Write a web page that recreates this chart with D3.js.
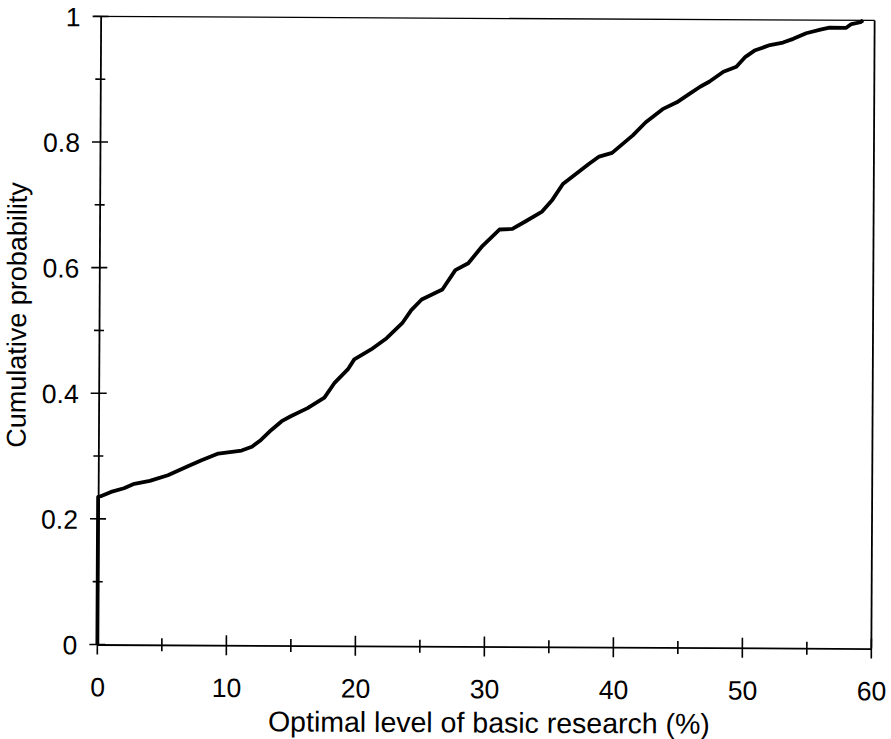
<!DOCTYPE html>
<html>
<head>
<meta charset="utf-8">
<script src="https://cdn.jsdelivr.net/npm/d3@7"></script>
<style>
    html, body { margin: 0; padding: 0; background: #fff; }
    svg { display: block; }
    text { font-family: "Liberation Sans", Arial, sans-serif; fill: #000; }
</style>
</head>
<body>
<svg id="chart" width="891" height="739"></svg>
<script>
// Optimal level of basic research (%)
var levels = [0, 0, 0.2, 1.0, 2.0, 2.8, 4.0, 5.4, 6.9, 8.0, 9.3, 11.1, 11.9, 12.6, 13.4, 14.2, 14.9,
    16.2, 17.5, 18.3, 19.3, 19.8, 21.1, 22.3, 23.5, 24.2, 25.0, 26.6, 27.6, 28.6, 29.7, 31.0,
    32.0, 33.0, 34.3, 35.1, 35.9, 36.9, 37.9, 38.7, 39.7, 41.3, 42.3, 43.6, 44.7, 45.7, 46.5,
    47.2, 48.3, 49.3, 50.0, 50.7, 51.9, 52.9, 53.7, 54.7, 55.8, 56.5, 57.8, 58.2, 58.9, 59.1];
// Cumulative probability at each level
var probs = [0, 0.235, 0.236, 0.243, 0.249, 0.256, 0.261, 0.27, 0.284, 0.294, 0.305, 0.31, 0.316,
    0.327, 0.343, 0.357, 0.365, 0.378, 0.395, 0.419, 0.44, 0.456, 0.472, 0.49, 0.514, 0.535,
    0.552, 0.568, 0.599, 0.61, 0.638, 0.664, 0.665, 0.677, 0.693, 0.712, 0.737, 0.753, 0.769,
    0.781, 0.787, 0.815, 0.836, 0.857, 0.868, 0.882, 0.893, 0.901, 0.917, 0.925, 0.941, 0.951,
    0.96, 0.964, 0.97, 0.979, 0.985, 0.988, 0.988, 0.994, 0.997, 1.0];

var xMajor = [0, 10, 20, 30, 40, 50, 60];
var xMinor = [5, 15, 25, 35, 45, 55];
var yMajor = [0, 0.2, 0.4, 0.6, 0.8, 1];
var yMinor = [0.1, 0.3, 0.5, 0.7, 0.9];
var yTickLabels = ['0', '0.2', '0.4', '0.6', '0.8', '1'];

var xTitle = 'Optimal level of basic research (%)';
var yTitle = 'Cumulative probability';

(function () {
    var plotLeft = 99, plotRight = 873, plotTop = 18.4, plotBottom = 646.5;

    var x = d3.scaleLinear().domain([0, 60]).range([plotLeft, plotRight]);
    var y = d3.scaleLinear().domain([0, 1]).range([plotBottom, plotTop]);

    var svg = d3.select('#chart');
    // the scan is slightly tilted
    var g = svg.append('g').attr('transform', 'rotate(0.3, 485, 332)');

    // frame: top and right sides
    g.append('line')
        .attr('x1', plotLeft - 6).attr('x2', plotRight)
        .attr('y1', y(1)).attr('y2', y(1))
        .attr('stroke', '#000').attr('stroke-width', 1.3);
    g.append('line')
        .attr('x1', plotRight).attr('x2', plotRight)
        .attr('y1', y(1)).attr('y2', y(0))
        .attr('stroke', '#000').attr('stroke-width', 1.8);

    /**
     * Draws an axis line with its labels; ticks are added separately so they cross the line
     */
    function labelledAxis(axisFn, scale, majors, labels, pad) {
        var axisG = g.append('g');
        axisG.call(axisFn(scale).tickValues(majors).tickSize(0).tickSizeOuter(0)
            .tickFormat(function (d, i) { return labels[i]; }).tickPadding(pad));
        axisG.attr('font-size', null).attr('font-family', null);
        axisG.select('.domain').attr('stroke', '#000').attr('stroke-width', 1.8);
        axisG.selectAll('text').style('font-size', '26.5px');
        return axisG;
    }

    var xAxisG = labelledAxis(d3.axisBottom, x, xMajor, xMajor.map(String), 33)
        .attr('transform', 'translate(0,' + plotBottom + ')');
    var yAxisG = labelledAxis(d3.axisLeft, y, yMajor, yTickLabels, 20)
        .attr('transform', 'translate(' + plotLeft + ',0)');
    yAxisG.selectAll('text').attr('dy', '0.36em');

    xAxisG.selectAll('.xt')
        .data(xMajor.map(function (d) { return {v: d, len: 10}; })
            .concat(xMinor.map(function (d) { return {v: d, len: 6.5}; })))
        .enter().append('line')
        .attr('x1', function (d) { return x(d.v); })
        .attr('x2', function (d) { return x(d.v); })
        .attr('y1', function (d) { return -d.len; })
        .attr('y2', function (d) { return d.len; })
        .attr('stroke', '#000').attr('stroke-width', 1.6);

    yAxisG.selectAll('.yt')
        .data(yMajor.map(function (d) { return {v: d, len: 8}; })
            .concat(yMinor.map(function (d) { return {v: d, len: 5}; })))
        .enter().append('line')
        .attr('y1', function (d) { return y(d.v); })
        .attr('y2', function (d) { return y(d.v); })
        .attr('x1', function (d) { return -d.len; })
        .attr('x2', function (d) { return d.len; })
        .attr('stroke', '#000').attr('stroke-width', 1.6);

    // the cumulative curve
    var line = d3.line()
        .x(function (d) { return x(d[0]); })
        .y(function (d) { return y(d[1]); });

    g.append('path')
        .datum(d3.zip(levels, probs))
        .attr('d', line)
        .attr('fill', 'none')
        .attr('stroke', '#000')
        .attr('stroke-width', 3.8)
        .attr('stroke-linejoin', 'round');

    // axis titles
    g.append('text')
        .attr('x', (plotLeft + plotRight) / 2 + 5)
        .attr('y', plotBottom + 86)
        .attr('text-anchor', 'middle')
        .style('font-size', '28.5px')
        .text(xTitle);

    g.append('text')
        .attr('transform', 'translate(26,' + ((plotTop + plotBottom) / 2 - 15) + ') rotate(-90)')
        .attr('text-anchor', 'middle')
        .style('font-size', '27px')
        .text(yTitle);
})();
</script>
</body>
</html>
